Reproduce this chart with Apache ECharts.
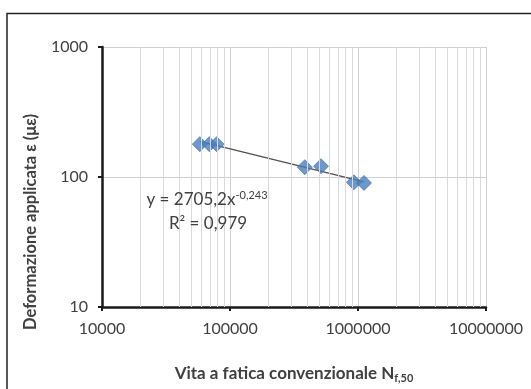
<!DOCTYPE html>
<html><head><meta charset="utf-8">
<script src="https://cdn.jsdelivr.net/npm/echarts@6/dist/echarts.min.js"></script>
<style>html,body{margin:0;padding:0;background:#fff}#c{width:531px;height:389px}</style>
</head><body><div id="c"></div>
<script>
// Data
const cyclesN  = [58100, 68900, 78700, 384000, 514000, 929000, 1114000];
const strainUe = [179, 179, 179, 119, 121, 91, 90];
// Power-law trend line end points (y = 2705,2 x^-0,243)
const trendN  = [58100, 1114000];
const trendUe = [188, 91.8];
const xTicks = [10000, 100000, 1000000, 10000000];
const yTicks = [10, 100, 1000];
const yTitle = 'Deformazione applicata ε (με)';
const eqText = 'y = 2705,2x';
const eqExp = '-0,243';
const r2Text = 'R² = 0,979';

const FONT = 'Lato, "Open Sans", sans-serif';
const TXT = '#404040';

// minor vertical gridlines at 2..9 x each decade
const minorX = [];
for (let i = 0; i < xTicks.length - 1; i++) {
  for (let k = 2; k <= 9; k++) minorX.push({ xAxis: k * xTicks[i] });
}

const chart = echarts.init(document.getElementById('c'), null, { renderer: 'canvas' });
chart.setOption({
  animation: false,
  backgroundColor: '#fff',
  grid: { left: 102, right: 45, top: 47, bottom: 78 },
  xAxis: {
    type: 'log', logBase: 10, min: xTicks[0], max: xTicks[xTicks.length - 1],
    name: 'Vita a fatica convenzionale N{sub|f,50}',
    nameLocation: 'middle', nameGap: 57,
    nameTextStyle: { fontFamily: FONT, fontSize: 17, fontWeight: 'bold', color: TXT,
      rich: { sub: { fontFamily: FONT, fontSize: 11, fontWeight: 'bold', color: TXT, verticalAlign: 'bottom', padding: [9, 0, 0, 0] } } },
    axisLine: { show: true, lineStyle: { color: '#1a1a1a', width: 2.5 } },
    axisTick: { show: true, length: 4, lineStyle: { color: '#1a1a1a', width: 2 } },
    axisLabel: { fontFamily: FONT, fontSize: 16, color: TXT, margin: 14, formatter: v => String(Math.round(v)) },
    splitLine: { show: true, lineStyle: { color: '#d0d0d0', width: 1 } },
    minorTick: { show: false }, minorSplitLine: { show: false }
  },
  yAxis: {
    type: 'log', logBase: 10, min: yTicks[0], max: yTicks[yTicks.length - 1],
    axisLine: { show: true, lineStyle: { color: '#1a1a1a', width: 2.5 } },
    axisTick: { show: true, length: 4, lineStyle: { color: '#1a1a1a', width: 2 } },
    axisLabel: { fontFamily: FONT, fontSize: 16, color: TXT, margin: 14, formatter: v => String(Math.round(v)) },
    splitLine: { show: true, lineStyle: { color: '#d0d0d0', width: 1 } }
  },
  graphic: [
    { type: 'rect', silent: true, z: 100,
      shape: { x: 7, y: 13.5, width: 600, height: 500 },
      style: { fill: 'none', stroke: '#222', lineWidth: 1.5 } },
    { type: 'text', x: 31, y: 222, rotation: Math.PI / 2, z: 50,
      style: { text: yTitle, fontFamily: FONT, fontSize: 16.5, fontWeight: 'bold', fill: TXT,
        align: 'center', verticalAlign: 'middle' } },
    { type: 'text', x: 207, y: 200, z: 50,
      style: { text: '{m|' + eqText + '}{s|' + eqExp + '}', align: 'center', verticalAlign: 'middle',
        rich: {
          m: { fontFamily: FONT, fontSize: 17, fill: TXT, color: TXT },
          s: { fontFamily: FONT, fontSize: 11, fill: TXT, color: TXT, verticalAlign: 'top', padding: [0, 0, 9, 0] }
        } } },
    { type: 'text', x: 208, y: 224, z: 50,
      style: { text: r2Text, fontFamily: FONT, fontSize: 17, fill: TXT, align: 'center', verticalAlign: 'middle' } }
  ],
  series: [
    { type: 'line', data: [], silent: true, z: 1,
      markLine: { silent: true, symbol: ['none', 'none'], label: { show: false },
        lineStyle: { color: '#d9d9d9', width: 1, type: 'solid' }, animation: false, data: minorX } },
    { type: 'line', data: trendN.map((n, i) => [n, trendUe[i]]), showSymbol: false, symbol: 'none',
      lineStyle: { color: '#505050', width: 1.3 }, z: 3 },
    { type: 'scatter', data: cyclesN.map((n, i) => [n, strainUe[i]]), symbol: 'diamond', symbolSize: 15,
      itemStyle: { color: '#4a7ebb', borderColor: '#3c6aa3', borderWidth: 0.8 }, z: 4 }
  ]
});
</script></body></html>
